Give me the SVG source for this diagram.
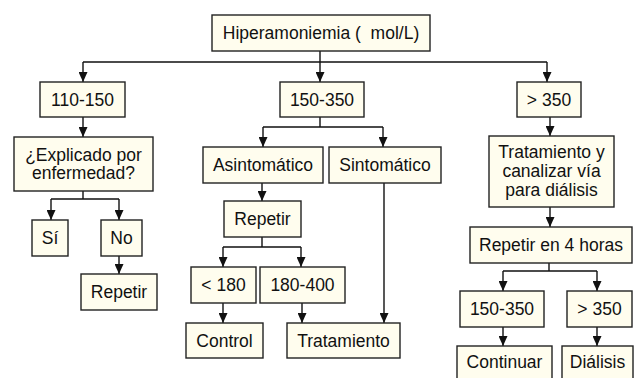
<svg xmlns="http://www.w3.org/2000/svg" width="636" height="378" viewBox="0 0 636 378">
<style>
.b{fill:#fffdee;stroke:#222;stroke-width:1.4}
.t{font-family:"Liberation Sans",Arial,sans-serif;font-size:17.5px;fill:#111;text-anchor:middle}
.c{fill:none;stroke:#111;stroke-width:1.4}
</style>
<defs>
<marker id="ar" markerUnits="userSpaceOnUse" markerWidth="10" markerHeight="9" refX="10" refY="4.5" orient="auto">
<path d="M0,0 L10,4.5 L0,9 z" fill="#111"/>
</marker>
</defs>
<rect width="636" height="378" fill="#fff"/>
<g id="connectors">
<path class="c" d="M320,51 V62 M83,62 H547"/>
<path class="c" d="M83,62 V82" marker-end="url(#ar)"/>
<path class="c" d="M320,62 V82" marker-end="url(#ar)"/>
<path class="c" d="M547,62 V82" marker-end="url(#ar)"/>
<path class="c" d="M83,117 V137" marker-end="url(#ar)"/>
<path class="c" d="M83,191 V199 M51,199 H119"/>
<path class="c" d="M51,199 V220" marker-end="url(#ar)"/>
<path class="c" d="M119,199 V220" marker-end="url(#ar)"/>
<path class="c" d="M119,256 V274" marker-end="url(#ar)"/>
<path class="c" d="M320,117 V127 M263,127 H383"/>
<path class="c" d="M263,127 V147" marker-end="url(#ar)"/>
<path class="c" d="M383,127 V147" marker-end="url(#ar)"/>
<path class="c" d="M262,183 V201" marker-end="url(#ar)"/>
<path class="c" d="M262,237 V247 M223,247 H301"/>
<path class="c" d="M223,247 V267" marker-end="url(#ar)"/>
<path class="c" d="M301,247 V267" marker-end="url(#ar)"/>
<path class="c" d="M223,303 V323" marker-end="url(#ar)"/>
<path class="c" d="M302,303 V323" marker-end="url(#ar)"/>
<path class="c" d="M384,183 V323" marker-end="url(#ar)"/>
<path class="c" d="M550,117 V136" marker-end="url(#ar)"/>
<path class="c" d="M550,207 V227" marker-end="url(#ar)"/>
<path class="c" d="M549,263 V271 M503,271 H597"/>
<path class="c" d="M503,271 V291" marker-end="url(#ar)"/>
<path class="c" d="M597,271 V291" marker-end="url(#ar)"/>
<path class="c" d="M503,327 V346" marker-end="url(#ar)"/>
<path class="c" d="M597,327 V346" marker-end="url(#ar)"/>
</g>
<g id="n-top"><rect class="b" x="212" y="15" width="218" height="36"/><text class="t" x="321" y="39" xml:space="preserve">Hiperamoniemia (  mol/L)</text></g>
<g id="n-110"><rect class="b" x="40" y="82" width="85" height="35"/><text class="t" x="82.5" y="106">110-150</text></g>
<g id="n-150"><rect class="b" x="280" y="82" width="84" height="35"/><text class="t" x="322" y="106">150-350</text></g>
<g id="n-350"><rect class="b" x="517" y="82" width="64" height="35"/><text class="t" x="549" y="106">&gt; 350</text></g>
<g id="n-explicado"><rect class="b" x="14" y="137" width="139" height="54"/><text class="t" x="83.5" y="161">¿Explicado por</text><text class="t" x="83.5" y="179">enfermedad?</text></g>
<g id="n-si"><rect class="b" x="32" y="220" width="36" height="36"/><text class="t" x="50" y="244">Sí</text></g>
<g id="n-no"><rect class="b" x="101" y="220" width="41" height="36"/><text class="t" x="121.5" y="244">No</text></g>
<g id="n-repetir1"><rect class="b" x="81" y="274" width="76" height="36"/><text class="t" x="119" y="298">Repetir</text></g>
<g id="n-asint"><rect class="b" x="203" y="147" width="120" height="36"/><text class="t" x="263" y="171">Asintomático</text></g>
<g id="n-sint"><rect class="b" x="329" y="147" width="112" height="36"/><text class="t" x="385" y="171">Sintomático</text></g>
<g id="n-repetir2"><rect class="b" x="224" y="201" width="77" height="36"/><text class="t" x="262.5" y="225">Repetir</text></g>
<g id="n-lt180"><rect class="b" x="191" y="267" width="65" height="36"/><text class="t" x="223.5" y="291">&lt; 180</text></g>
<g id="n-180400"><rect class="b" x="260" y="267" width="85" height="36"/><text class="t" x="302.5" y="291">180-400</text></g>
<g id="n-control"><rect class="b" x="186" y="323" width="77" height="35"/><text class="t" x="224.5" y="347">Control</text></g>
<g id="n-tratamiento"><rect class="b" x="287" y="323" width="113" height="35"/><text class="t" x="343.5" y="347">Tratamiento</text></g>
<g id="n-tratY"><rect class="b" x="489" y="136" width="125" height="71"/><text class="t" x="551.5" y="158">Tratamiento y</text><text class="t" x="551.5" y="177">canalizar vía</text><text class="t" x="551.5" y="196">para diálisis</text></g>
<g id="n-rep4"><rect class="b" x="470" y="227" width="162" height="36"/><text class="t" x="551" y="251">Repetir en 4 horas</text></g>
<g id="n-150b"><rect class="b" x="460" y="291" width="84" height="36"/><text class="t" x="502" y="315">150-350</text></g>
<g id="n-350b"><rect class="b" x="567" y="291" width="65" height="36"/><text class="t" x="599.5" y="315">&gt; 350</text></g>
<g id="n-continuar"><rect class="b" x="457" y="346" width="95" height="40"/><text class="t" x="504.5" y="368">Continuar</text></g>
<g id="n-dialisis"><rect class="b" x="562" y="346" width="71" height="40"/><text class="t" x="597.5" y="368">Diálisis</text></g>
</svg>
